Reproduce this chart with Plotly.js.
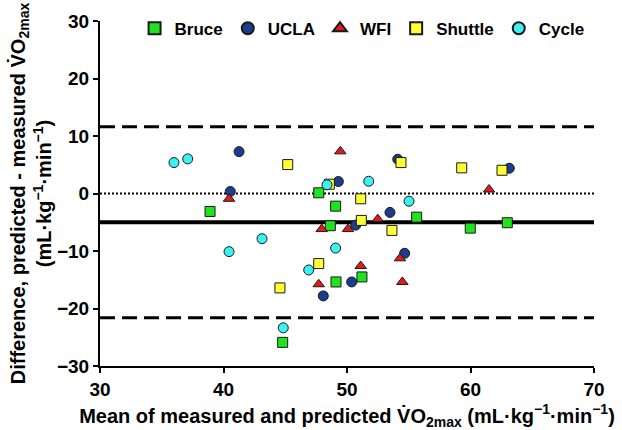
<!DOCTYPE html>
<html>
<head>
<meta charset="utf-8">
<script src="https://cdn.plot.ly/plotly-3.0.1.min.js"></script>
<style>html,body{margin:0;padding:0;background:#fff;}#chart{width:622px;height:430px;}</style>
</head>
<body>
<div id="chart"></div>
<script>
// Bland-Altman data: mean of measured & predicted VO2max (x), difference predicted - measured (y)
const bruceX   = [38.91, 47.71, 49.08, 55.64, 48.65, 51.21, 49.11, 44.79, 59.98, 62.98];
const bruceY   = [-3.12, 0.12, -2.20, -4.11, -5.60, -14.51, -15.38, -25.89, -6.02, -5.08];
const uclaX    = [41.26, 40.55, 54.11, 49.30, 53.48, 50.70, 54.67, 50.38, 48.08, 63.14];
const uclaY    = [7.28, 0.35, 5.95, 2.08, -3.29, -5.50, -10.40, -15.38, -17.81, 4.39];
const wfiX     = [40.45, 49.46, 52.49, 47.95, 50.08, 54.29, 51.11, 47.71, 54.48, 61.50];
const wfiY     = [-0.92, 7.33, -4.46, -6.19, -6.19, -11.27, -12.61, -15.78, -15.38, 0.69];
const shuttleX = [45.20, 54.37, 48.57, 51.11, 51.16, 53.64, 47.71, 44.57, 59.29, 62.55];
const shuttleY = [5.03, 5.38, 1.62, -0.92, -4.68, -6.42, -12.19, -16.42, 4.46, 4.04];
const cycleX   = [35.99, 37.10, 43.12, 40.45, 48.38, 51.76, 55.02, 49.08, 46.90, 44.84];
const cycleY   = [5.38, 6.02, -7.86, -10.11, 1.51, 2.13, -1.34, -9.49, -13.30, -23.36];

const seriesNames = ["Bruce", "UCLA", "WFI", "Shuttle", "Cycle"];
const meanBias = -5.0;
const limitsOfAgreement = [11.6, -21.6];
const zeroLine = 0;
const xTicks = [30, 40, 50, 60, 70];
const yTicks = [-30, -20, -10, 0, 10, 20, 30];

const fontFam = '"Liberation Sans", Arial, sans-serif';
const mk = (color, symbol) => ({color: color, symbol: symbol, size: 10, line: {color: '#1a1a1a', width: 1}});

const traces = [
  {x: bruceX, y: bruceY, name: seriesNames[0], marker: mk('#1fe31f', 'square')},
  {x: uclaX, y: uclaY, name: seriesNames[1], marker: mk('#1c3c8e', 'circle')},
  {x: wfiX, y: wfiY, name: seriesNames[2], marker: mk('#e01b1b', 'triangle-up')},
  {x: shuttleX, y: shuttleY, name: seriesNames[3], marker: mk('#ffff33', 'square')},
  {x: cycleX, y: cycleY, name: seriesNames[4], marker: mk('#3ff0f0', 'circle')}
].map(t => Object.assign({type: 'scatter', mode: 'markers', cliponaxis: false}, t));

const hline = (yv, width, dash) => ({type: 'line', xref: 'paper', x0: 0, x1: 1, yref: 'y', y0: yv, y1: yv,
  line: {color: '#000', width: width, dash: dash}, layer: 'below'});

const layout = {
  width: 622, height: 430,
  margin: {l: 100, r: 28, t: 20, b: 64},
  paper_bgcolor: '#fff', plot_bgcolor: '#fff',
  font: {family: fontFam, size: 18, color: '#000', weight: 'bold'},
  showlegend: true,
  legend: {orientation: 'h', x: 0.07, xanchor: 'left', y: 0.975, yanchor: 'middle',
           font: {family: fontFam, size: 17, color: '#000', weight: 'bold'},
           bgcolor: 'rgba(0,0,0,0)', itemsizing: 'constant'},
  xaxis: {range: [30, 70], tickvals: xTicks, ticks: 'outside', ticklen: 5, tickwidth: 2, tickcolor: '#000',
          showline: true, linewidth: 2, linecolor: '#000', showgrid: false, zeroline: false,
          tickfont: {family: fontFam, size: 19, weight: 'bold'},
          title: {text: 'Mean of measured and predicted V̇O<sub>2max</sub> (mL·kg<sup>−1</sup>·min<sup>−1</sup>)',
                  font: {family: fontFam, size: 20, weight: 'bold'}}},
  yaxis: {range: [-30, 30], tickvals: yTicks, ticks: 'outside', ticklen: 5, tickwidth: 2, tickcolor: '#000',
          showline: true, linewidth: 2, linecolor: '#000', showgrid: false, zeroline: false,
          tickfont: {family: fontFam, size: 19, weight: 'bold'},
          title: {text: 'Difference, predicted - measured V̇O<sub>2max</sub><br>(mL·kg<sup>−1</sup>·min<sup>−1</sup>)',
                  font: {family: fontFam, size: 20, weight: 'bold'}}},
  shapes: [
    hline(zeroLine, 2, '2px,2px'),
    hline(meanBias, 4, 'solid'),
    hline(limitsOfAgreement[0], 3, '15px,7px'),
    hline(limitsOfAgreement[1], 3, '15px,7px')
  ]
};

Plotly.newPlot('chart', traces, layout, {displayModeBar: false, staticPlot: true});
</script>
</body>
</html>
